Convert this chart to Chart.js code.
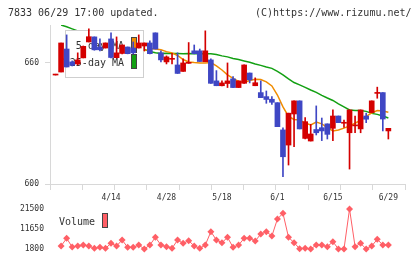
<!DOCTYPE html>
<html>
<head>
<meta charset="utf-8">
<script src="https://cdn.jsdelivr.net/npm/chart.js@4.4.0/dist/chart.umd.min.js"></script>
<style>
  body { margin: 0; background: #fff; }
  #wrap { position: relative; width: 420px; height: 259px; overflow: hidden; }
  .head { position: absolute; top: 6px; font: 10px "DejaVu Sans Mono", monospace; color: #333; line-height: 14px; white-space: pre; z-index: 2; }
  canvas { position: absolute; left: 0; }
</style>
</head>
<body>
<div id="wrap">
  <div class="head" style="left:8px">7833 06/29 17:00 updated.</div>
  <div class="head" style="left:255px">(C)https://www.rizumu.net/</div>
  <canvas id="price" width="420" height="192" style="top:0"></canvas>
  <canvas id="volume" width="420" height="67" style="top:192px"></canvas>
</div>
<script>
// candles start one slot before the first volume point
const firstX = -1;
const opens = [654.0, 655.5, 666.9, 660.5, 659.5, 662.5, 670.4, 672.9, 667.9, 667.4, 671.9, 662.6, 664.7, 667.9, 667.4, 667.4,
  668.4, 669.9, 674.9, 665.0, 660.5, 661.8, 659.0, 655.8, 659.8, 666.0, 666.0, 660.6, 661.5, 651.1, 648.7, 649.8, 652.1,
  647.8, 649.9, 655.0, 648.7, 645.3, 643.3, 642.0, 640.3, 626.8, 619.3, 634.7, 641.2, 622.6, 621.3, 627.0, 627.9, 629.8,
  627.6, 633.7, 630.1, 625.4, 628.8, 627.3, 633.7, 635.4, 644.9, 645.3, 626.3];
const highs = [654.4, 669.9, 673.9, 661.0, 665.0, 668.4, 676.9, 672.9, 671.9, 669.9, 674.9, 672.9, 668.9, 667.9, 670.4, 673.9,
  669.9, 670.9, 674.9, 666.0, 663.5, 664.7, 665.0, 662.0, 670.1, 668.9, 666.9, 675.9, 662.0, 656.2, 651.1, 660.0, 653.2,
  651.1, 659.0, 655.0, 652.6, 651.1, 646.1, 643.3, 640.3, 627.8, 635.1, 641.2, 641.2, 632.9, 629.6, 638.7, 632.7, 629.8,
  636.7, 633.7, 631.7, 636.7, 633.7, 636.7, 635.1, 641.2, 648.0, 645.3, 627.6];
const lows = [654.0, 655.5, 658.0, 658.5, 659.0, 662.5, 670.4, 666.3, 666.0, 667.4, 662.5, 662.5, 664.5, 664.5, 664.5, 667.4,
  666.0, 664.5, 666.9, 660.5, 659.5, 659.5, 654.8, 655.8, 659.8, 664.5, 660.7, 660.6, 649.9, 648.7, 648.6, 647.8, 647.8,
  647.8, 649.9, 650.1, 648.7, 642.8, 640.0, 639.4, 628.4, 603.6, 609.4, 618.5, 627.3, 622.3, 621.3, 624.3, 621.5, 622.3,
  621.5, 630.4, 628.1, 607.4, 625.4, 625.4, 630.4, 635.4, 642.5, 626.3, 622.3];
const closes = [654.4, 669.9, 658.0, 658.8, 661.5, 668.2, 673.0, 666.5, 666.5, 669.9, 662.7, 665.0, 668.9, 664.6, 665.0, 669.9,
  669.9, 664.6, 666.9, 661.5, 663.0, 662.1, 654.8, 660.0, 660.2, 664.6, 660.7, 666.0, 649.9, 648.7, 650.1, 651.1, 647.8,
  651.1, 659.0, 651.6, 650.2, 642.8, 641.9, 640.5, 628.4, 613.5, 635.1, 641.2, 627.3, 630.9, 624.8, 625.4, 626.3, 624.6,
  633.7, 630.4, 630.4, 636.7, 629.1, 636.7, 632.1, 641.2, 645.3, 632.2, 627.6];

const ma5 = [661.5, 662.5, 663.0, 662.5, 663.5, 665.5, 666.9, 667.4, 667.9, 667.7, 667.4, 666.9, 666.7, 666.5, 666.2,
  666.0, 667.2, 666.9, 666.5, 665.6, 665.0, 663.7, 661.7, 660.5, 660.2, 660.0, 660.0, 660.2, 658.5, 656.5, 654.1, 652.3,
  650.8, 650.3, 651.3, 651.9, 651.8, 650.6, 648.6, 644.1, 638.2, 633.5, 632.0, 631.7, 630.2, 629.3, 630.7, 629.8, 628.0,
  626.3, 626.8, 627.7, 628.8, 630.1, 631.7, 633.5, 635.2, 636.4, 636.2, 635.6];
const ma25 = [678.8, 677.9, 676.9, 675.9, 674.9, 673.9, 673.1, 672.4, 671.7, 670.9, 670.2, 669.4, 668.7, 667.9, 667.2,
  666.7, 665.7, 665.0, 664.7, 664.8, 664.7, 664.7, 664.6, 664.7, 664.6, 664.6, 664.5, 664.5, 664.2, 663.5, 663.0, 662.2,
  661.7, 661.0, 660.3, 659.5, 658.8, 658.0, 657.3, 655.8, 654.1, 652.1, 650.3, 649.1, 647.9, 646.6, 645.4, 643.9, 642.6,
  641.4, 639.7, 638.2, 636.7, 636.4, 636.4, 636.0, 635.0, 634.5, 633.7, 632.7];

const volumes = [3280, 7050, 2790, 3280, 3770, 3280, 2130, 2620, 2130, 4590, 3280, 6230, 2620, 2620, 3770, 1800, 3770,
  7550, 3770, 2950, 2130, 6230, 4590, 5900, 3280, 2130, 3770, 10340, 6230, 4920, 7550, 2620, 3770, 7050, 7050, 5740,
  9190, 10340, 8200, 16580, 19370, 7550, 4920, 1960, 2130, 1800, 3770, 3770, 2950, 5410, 1800, 1800, 21500, 2950,
  4590, 1800, 3280, 6560, 3770, 3770];

const dateLabels = ['4/14', '4/28', '5/18', '6/1', '6/15', '6/29'];
const dateIndex = [9, 19, 29, 39, 49, 59];
const priceTicks = [600, 660];
const volumeTicks = [1800, 11650, 21500];

const UP = '#d40000';
const DOWN = '#3f47c4';
const ORANGE = '#f08c00';
const GREEN = '#12a012';
const VOL = '#ff5f66';
const AXIS = '#d8d8d8';
const FONT = '"DejaVu Sans Mono", monospace';

let bodies = [];
let wicks = [];
let colors = [];
for(let i = 0; i < opens.length; i++){
    bodies.push({x: i + firstX, y: [opens[i], closes[i]]});
    wicks.push({x: i + firstX, y: [lows[i], highs[i]]});
    colors.push(closes[i] >= opens[i] ? UP : DOWN);
}

let ma5pts = ma5.map(function(v, i){ return {x: i, y: v}; });
let ma25pts = ma25.map(function(v, i){ return {x: i, y: v}; });
let volpts = volumes.map(function(v, i){ return {x: i, y: v}; });

//keep tick labels from pushing the plot area around
function noPad(s){
    s.paddingTop = 0;
    s.paddingBottom = 0;
    s.paddingLeft = 0;
    s.paddingRight = 0;
}

//legend box sits above the lines but under the candles
const maLegend = {
    id: 'maLegend',
    afterDatasetDraw(chart, args){
        if(args.index != 2) return;
        const ctx = chart.ctx;
        ctx.save();
        ctx.fillStyle = '#fff';
        ctx.fillRect(65, 30, 78, 47);
        ctx.strokeStyle = '#cfcfcf';
        ctx.lineWidth = 1;
        ctx.strokeRect(65.5, 30.5, 78, 47);
        ctx.font = '10px ' + FONT;
        ctx.fillStyle = '#333';
        ctx.textAlign = 'right';
        ctx.textBaseline = 'middle';
        ctx.fillText('5-day MA', 124, 46);
        ctx.fillText('25-day MA', 124, 63);
        ctx.fillStyle = ORANGE;
        ctx.fillRect(131, 37, 6, 16);
        ctx.fillStyle = GREEN;
        ctx.fillRect(131, 54, 6, 15);
        ctx.strokeStyle = '#444';
        ctx.strokeRect(131.5, 37.5, 5, 15);
        ctx.strokeRect(131.5, 54.5, 5, 14);
        ctx.restore();
    }
};

const volLegend = {
    id: 'volLegend',
    afterDraw(chart){
        const ctx = chart.ctx;
        ctx.save();
        ctx.font = '10px ' + FONT;
        ctx.fillStyle = '#333';
        ctx.textAlign = 'right';
        ctx.textBaseline = 'middle';
        ctx.fillText('Volume', 95, 30);
        ctx.fillStyle = VOL;
        ctx.fillRect(102, 21, 6, 15);
        ctx.strokeStyle = '#444';
        ctx.lineWidth = 1;
        ctx.strokeRect(102.5, 21.5, 5, 14);
        ctx.restore();
    }
};

new Chart(document.getElementById('price'), {
    type: 'bar',
    data: {
        datasets: [
            {data: bodies, backgroundColor: colors, barThickness: 5, minBarLength: 1, grouped: false, order: 0},
            {data: wicks, backgroundColor: colors, barThickness: 1, grouped: false, order: 1},
            {type: 'line', data: ma5pts, borderColor: ORANGE, borderWidth: 1.5, pointRadius: 0, order: 2},
            {type: 'line', data: ma25pts, borderColor: GREEN, borderWidth: 1.5, pointRadius: 0, order: 3}
        ]
    },
    options: {
        responsive: false,
        animation: false,
        devicePixelRatio: 1,
        layout: {padding: {top: 25, right: 15, left: 0, bottom: 0}},
        plugins: {legend: {display: false}, tooltip: {enabled: false}},
        scales: {
            x: {
                type: 'linear', min: -2, max: 62, offset: false,
                grid: {drawOnChartArea: false, offset: false, color: AXIS, tickLength: 6},
                border: {color: AXIS},
                ticks: {autoSkip: false, maxRotation: 0, callback: function(){ return ''; }},
                afterBuildTicks: function(s){
                    let t = [];
                    for(let k = 0; k <= 11; k++) t.push({value: -2 + k * 64 / 11});
                    s.ticks = t;
                },
                afterFit: function(s){ s.height = 8; noPad(s); }
            },
            y: {
                min: 600, max: 678.8,
                grid: {drawOnChartArea: false, color: AXIS, tickLength: 5},
                border: {color: AXIS},
                ticks: {padding: 6, color: '#333', font: {family: FONT, size: 8}, callback: function(v){ return String(v); }},
                afterBuildTicks: function(s){ s.ticks = priceTicks.map(function(v){ return {value: v}; }); },
                afterFit: function(s){ s.width = 50; noPad(s); }
            }
        }
    },
    plugins: [maLegend]
});

new Chart(document.getElementById('volume'), {
    type: 'line',
    data: {
        datasets: [{
            data: volpts, borderColor: VOL, backgroundColor: VOL, borderWidth: 1,
            pointStyle: 'rectRot', pointRadius: 3.5, pointBorderWidth: 0, clip: false
        }]
    },
    options: {
        responsive: false,
        animation: false,
        devicePixelRatio: 1,
        layout: {padding: {top: 0, right: 15, left: 0, bottom: 10}},
        plugins: {legend: {display: false}, tooltip: {enabled: false}},
        scales: {
            x: {
                type: 'linear', position: 'top', min: -2, max: 62,
                grid: {display: false, drawTicks: false},
                border: {display: false},
                ticks: {autoSkip: false, maxRotation: 0, padding: 6, color: '#333', font: {family: FONT, size: 8},
                    callback: function(v, i){ return dateLabels[i]; }},
                afterBuildTicks: function(s){ s.ticks = dateIndex.map(function(v){ return {value: v}; }); },
                afterFit: function(s){ s.height = 17; noPad(s); }
            },
            y: {
                min: 1800, max: 21500,
                grid: {display: false, drawTicks: false},
                border: {display: false},
                ticks: {padding: 6, color: '#333', font: {family: FONT, size: 8}, callback: function(v){ return String(v); }},
                afterBuildTicks: function(s){ s.ticks = volumeTicks.map(function(v){ return {value: v}; }); },
                afterFit: function(s){ s.width = 50; noPad(s); }
            }
        }
    },
    plugins: [volLegend]
});
</script>
</body>
</html>
